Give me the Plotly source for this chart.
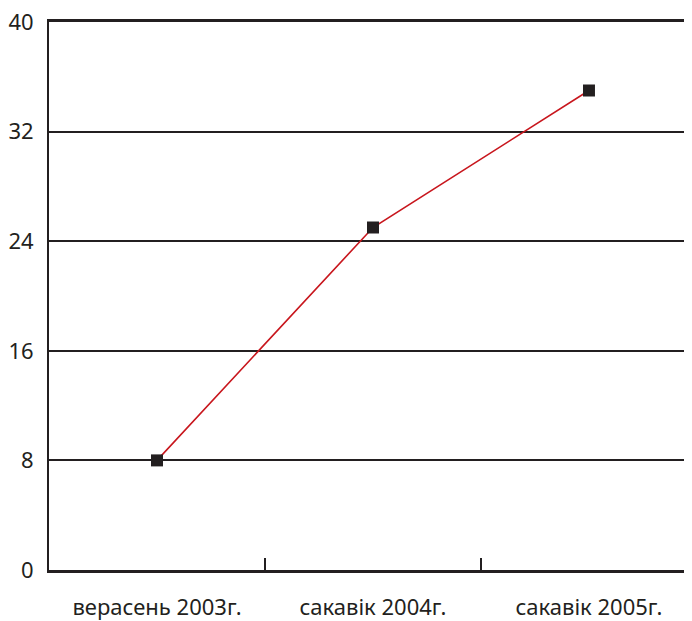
import plotly.graph_objects as go

categories = ["верасень 2003г.", "сакавік 2004г.", "сакавік 2005г."]
values = [8, 25, 35]
y_ticks = [0, 8, 16, 24, 32, 40]

fig = go.Figure()
fig.add_trace(go.Scatter(
    x=categories, y=values, mode="lines+markers",
    line=dict(color="#c8161d", width=1.6),
    marker=dict(symbol="square", size=12, color="#231f20"),
    cliponaxis=False,
))

# page body has an 8px margin, so the figure is sized to fill the rest of the window
fig.update_layout(
    width=684, height=613,
    margin=dict(l=41, r=0, t=14, b=51),
    paper_bgcolor="white", plot_bgcolor="white",
    showlegend=False,
    font=dict(family="Noto Sans", color="#231f20"),
)
fig.update_xaxes(
    type="category", range=[-0.5, 2.477], automargin=False,
    showline=True, linecolor="#231f20", linewidth=2.5, mirror=True,
    showgrid=False, tickson="boundaries", ticks="inside", ticklen=12,
    tickwidth=1.5, tickcolor="#231f20",
    tickfont=dict(size=22, color="#231f20"),
    ticklabelstandoff=16, ticklabeloverflow="allow",
)
fig.update_yaxes(
    range=[0, 40], tickvals=y_ticks, automargin=False,
    showline=True, linecolor="#231f20", linewidth=2,
    showgrid=True, gridcolor="#231f20", gridwidth=1.5,
    zeroline=False, ticks="", ticklabelstandoff=9,
    tickfont=dict(size=22, color="#231f20"),
    ticklabeloverflow="allow",
)
fig.write_html("out.html")
